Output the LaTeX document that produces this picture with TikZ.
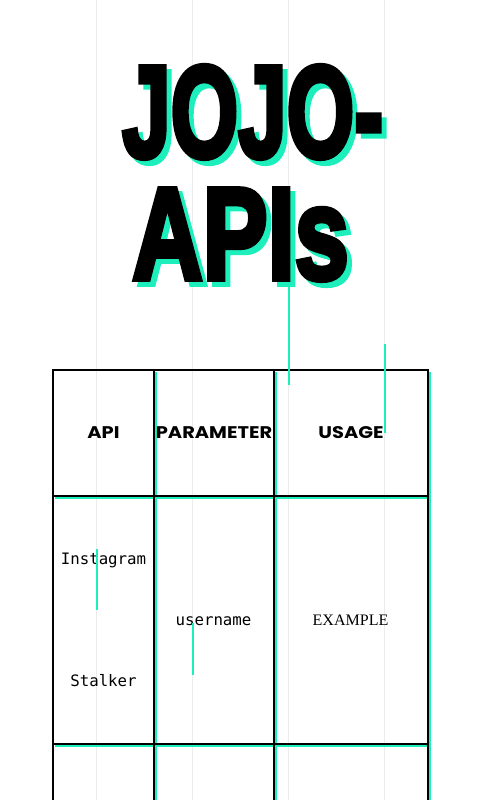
\documentclass[tikz,border=0pt]{standalone}
\usepackage{fontspec}
\setmainfont{Liberation Serif}
\setmonofont{DejaVu Sans Mono}
\newfontfamily\titlefont{Liberation Sans}
\newfontfamily\headfont{Poppins}
\definecolor{jojocyan}{RGB}{28,238,188}
\definecolor{gridgray}{RGB}{236,236,236}
\newcommand\heavytext[1]{\special{pdf:literal direct 2 Tr 4 w}#1\special{pdf:literal direct 0 Tr 0.4 w}}
\tikzset{
  titletext/.style={anchor=base west, inner sep=0pt, font=\titlefont\bfseries\fontsize{93}{93}\selectfont},
  headtext/.style={anchor=base, inner sep=0pt, font=\headfont\bfseries\fontsize{12}{12}\selectfont},
  monotext/.style={anchor=base, inner sep=0pt, font=\ttfamily\fontsize{11.2}{12}\selectfont},
  serifText/.style={anchor=base, inner sep=0pt, font=\rmfamily\fontsize{11.4}{12}\selectfont},
  cellbox/.style={draw=black, line width=1.4pt},
  cellshadow/.style={draw=jojocyan, line width=1.4pt},
  accent/.style={draw=jojocyan, line width=1.4pt},
  gridline/.style={draw=gridgray, line width=0.7pt}
}
\begin{document}
\begin{tikzpicture}[x=0.025cm, y=-0.025cm]
\path[use as bounding box, fill=white] (0,0) rectangle (480,800);
\clip (0,0) rectangle (480,800);
\foreach \gx in {96.5,192.5,288.5,384.5}
  \draw[gridline] (\gx,0) -- (\gx,800);
\node[titletext, text=jojocyan] (jojoshadow) at (127,162) {\scalebox{0.665}[1]{\heavytext{JOJO-}}};
\node[titletext] (jojo) at (122,157) {\scalebox{0.665}[1]{\heavytext{JOJO-}}};
\node[titletext, text=jojocyan] (apishadow) at (137,284) {\scalebox{0.745}[1]{\heavytext{APIs}}};
\node[titletext] (apis) at (132,279) {\scalebox{0.745}[1]{\heavytext{APIs}}};
\foreach \xa/\xb in {53/154,154/274,274/428}
  \foreach \ya/\yb in {370/496,496/744,744/1000}
    \draw[cellshadow] (\xb+2,\ya+2) -- (\xb+2,\yb+2) -- (\xa+2,\yb+2);
\foreach \xa/\xb in {53/154,154/274,274/428}
  \foreach \ya/\yb in {370/496,496/744,744/1000}
    \draw[cellbox] (\xa,\ya) rectangle (\xb,\yb);
\node[headtext] (hapi) at (103.5,438) {\scalebox{1.15}[1]{API}};
\node[headtext] (hparam) at (214,438) {\scalebox{1.15}[1]{PARAMETER}};
\node[headtext] (husage) at (351,438) {\scalebox{1.15}[1]{USAGE}};
\node[monotext] (insta) at (103.5,564) {Instagram};
\node[monotext] (stalker) at (103.5,686) {Stalker};
\node[monotext] (user) at (213.5,625) {username};
\node[serifText] (example) at (350.5,625) {EXAMPLE};
\draw[accent] (289,287) -- (289,385);
\draw[accent] (385,344) -- (385,433);
\draw[accent] (97,549) -- (97,610);
\draw[accent] (193,623) -- (193,675);
\end{tikzpicture}
\end{document}
